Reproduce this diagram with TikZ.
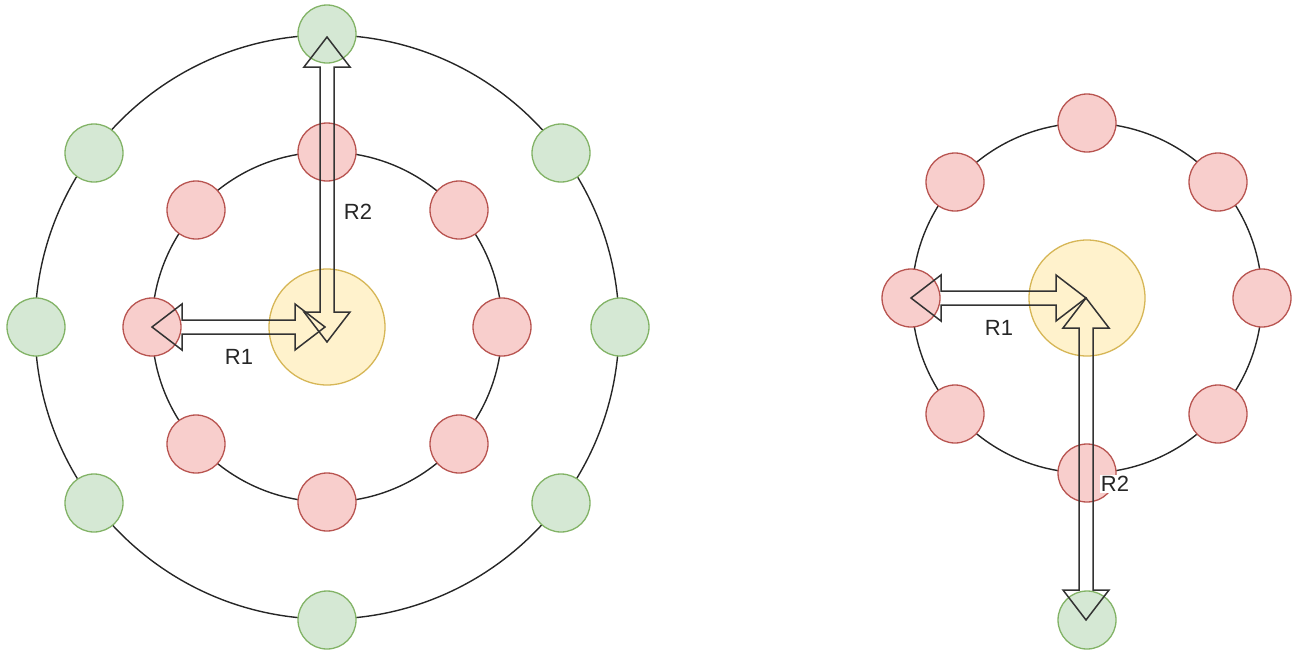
\documentclass[tikz,border=0pt]{standalone}
\usepackage{fontspec}
\setmainfont{Liberation Sans}
\usetikzlibrary{calc}
\definecolor{redfill}{HTML}{F8CECC}
\definecolor{redline}{HTML}{B85450}
\definecolor{greenfill}{HTML}{D5E8D4}
\definecolor{greenline}{HTML}{82B366}
\definecolor{yelfill}{HTML}{FFF2CC}
\definecolor{yelline}{HTML}{D6B656}
\definecolor{arrline}{HTML}{333333}
\tikzset{
  ring/.style={circle, draw=black!85, line width=1.4pt, inner sep=0pt, fill=none},
  rednode/.style={circle, draw=redline, fill=redfill, line width=1.3pt, minimum size=58pt, inner sep=0pt},
  greennode/.style={circle, draw=greenline, fill=greenfill, line width=1.3pt, minimum size=58pt, inner sep=0pt},
  yelnode/.style={circle, draw=yelline, fill=yelfill, line width=1.3pt, minimum size=116pt, inner sep=0pt},
  flexarrow/.style={draw=arrline, line width=1.5pt, line join=miter, fill=none},
  lbl/.style={font=\fontsize{22}{26}\selectfont, text=black!85, inner sep=1pt}
}
\newcommand\flexarr[2]{%
  \draw[flexarrow] let \p1=(#1), \p2=(#2),
    \n1={atan2(\y2-\y1,\x2-\x1)}, \n2={veclen(\x2-\x1,\y2-\y1)} in
    [shift={(\p1)}, rotate=\n1]
    (0pt,0pt) -- (30pt,23pt) -- (30pt,7pt) -- (\n2-30pt,7pt) -- (\n2-30pt,23pt)
    -- (\n2,0pt) -- (\n2-30pt,-23pt) -- (\n2-30pt,-7pt) -- (30pt,-7pt) -- (30pt,-23pt) -- cycle;}
\begin{document}
\begin{tikzpicture}[x=1pt, y=-1pt]
\useasboundingbox (0,0) rectangle (1297,651);
% ---------- left diagram ----------
\node[ring, minimum size=584pt] (Louter) at (327,327) {};
\node[ring, minimum size=350pt] (Linner) at (327,327) {};
\node[yelnode] (Lc) at (327,327) {};
% inner red
\node[rednode] (Lr1) at (327,152) {};
\node[rednode] (Lr2) at (459,210) {};
\node[rednode] (Lr3) at (502,327) {};
\node[rednode] (Lr4) at (459,444) {};
\node[rednode] (Lr5) at (327,502) {};
\node[rednode] (Lr6) at (196,444) {};
\node[rednode] (Lr7) at (152,327) {};
\node[rednode] (Lr8) at (196,210) {};
% outer green
\node[greennode] (Lg1) at (327,34) {};
\node[greennode] (Lg2) at (561,153) {};
\node[greennode] (Lg3) at (620,327) {};
\node[greennode] (Lg4) at (561,503) {};
\node[greennode] (Lg5) at (327,620) {};
\node[greennode] (Lg6) at (94,503) {};
\node[greennode] (Lg7) at (36,327) {};
\node[greennode] (Lg8) at (94,153) {};
\coordinate (LR1end) at (325,327);
\coordinate (LR2top) at (327,37);
\coordinate (LR2end) at (327,342);
\flexarr{Lr7}{LR1end}
\flexarr{LR2top}{LR2end}
\node[lbl] (LR1) at (239,357) {R1};
\node[lbl] (LR2) at (358,212) {R2};
% ---------- right diagram ----------
\node[ring, minimum size=350pt] (Rring) at (1087,298) {};
\node[yelnode] (Rc) at (1087,298) {};
\node[rednode] (Rr1) at (1087,123) {};
\node[rednode] (Rr2) at (1218,182) {};
\node[rednode] (Rr3) at (1262,298) {};
\node[rednode] (Rr4) at (1218,414) {};
\node[rednode] (Rr5) at (1087,473) {};
\node[rednode] (Rr6) at (955,414) {};
\node[rednode] (Rr7) at (911,298) {};
\node[rednode] (Rr8) at (955,182) {};
\node[greennode] (Rg) at (1087,620) {};
\coordinate (RR1end) at (1086,298);
\coordinate (RR2top) at (1086,298);
\coordinate (RR2end) at (1086,620);
\flexarr{Rr7}{RR1end}
\flexarr{RR2top}{RR2end}
\node[lbl] (RR1) at (999,328) {R1};
\node[lbl, fill=white] (RR2) at (1115,484) {R2};
\end{tikzpicture}
\end{document}
